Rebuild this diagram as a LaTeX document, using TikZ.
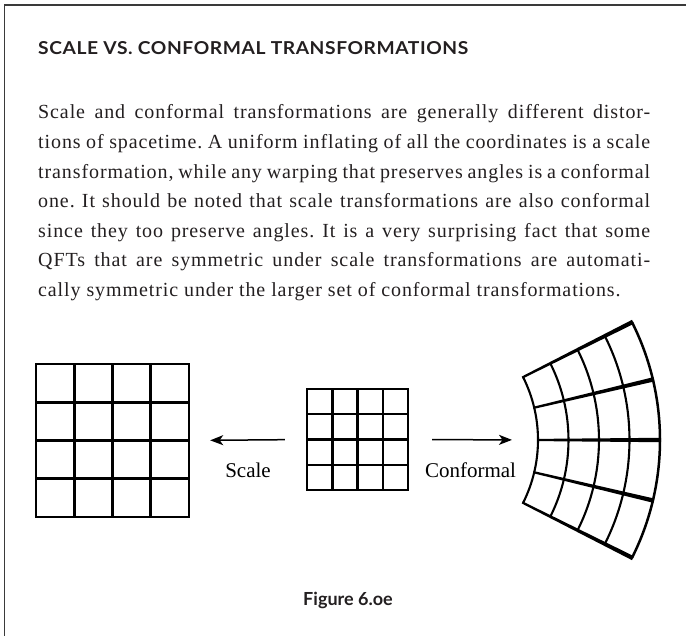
\documentclass[tikz,border=0pt]{standalone}
\usepackage{fontspec}
\setmainfont{Liberation Serif}
\newfontfamily\titlefont{Lato}
\newfontfamily\labelfont{Liberation Serif}
\usetikzlibrary{arrows.meta}
\definecolor{ink}{HTML}{231F20}
\definecolor{framec}{HTML}{3A3A3A}
\begin{document}
\frenchspacing
\begin{tikzpicture}[x=1pt,y=-1pt,
  bodyline/.style={anchor=base west, inner sep=0pt, text=ink, font=\fontsize{20}{20}\selectfont\addfontfeature{LetterSpace=4.5}},
  bigline/.style={line width=2.8pt, black},
  midline/.style={line width=2.5pt, black},
  arcline/.style={line width=2.2pt, black},
  arrowline/.style={line width=1.5pt, black, -{Stealth[length=13pt,width=10pt,inset=3.5pt]}},
  gridbox/.style={draw=none, inner sep=0pt, minimum size=#1},
  lbl/.style={anchor=base, inner sep=0pt, text=black, font=\labelfont\fontsize{21}{21}\selectfont}]
\useasboundingbox (0,0) rectangle (686,636);
\fill[white] (0,0) rectangle (686,636);
\draw[framec, line width=1.4pt] (4.5,636) -- (4.5,5) -- (686,5);
% title
\node[anchor=base west, inner sep=0pt, text=ink] (title) at (38,55)
  {\resizebox{430pt}{13pt}{\titlefont\bfseries\addfontfeature{LetterSpace=3}SCALE VS. CONFORMAL TRANSFORMATIONS}};
% body
\node[bodyline] (l1) at (38,119) {\makebox[612pt][s]{Scale and conformal transformations are generally different distor-}};
\node[bodyline] (l2) at (38,148.6) {\makebox[612pt][s]{tions of spacetime. A uniform inflating of all the coordinates is a scale}};
\node[bodyline] (l3) at (38,178.2) {\makebox[612pt][s]{transformation, while any warping that preserves angles is a conformal}};
\node[bodyline] (l4) at (38,207.8) {\makebox[612pt][s]{one. It should be noted that scale transformations are also conformal}};
\node[bodyline] (l5) at (38,237.4) {\makebox[612pt][s]{since they too preserve angles. It is a very surprising fact that some}};
\node[bodyline] (l6) at (38,267) {\makebox[612pt][s]{QFTs that are symmetric under scale transformations are automati-}};
\node[bodyline] (l7) at (38,296.6) {cally symmetric under the larger set of conformal transformations.};
% big grid
\node[gridbox=153pt] (big) at (112.5,440.5) {};
\foreach \i in {1,2,3} {
  \draw[bigline] (36+\i*38.25,364) -- (36+\i*38.25,517);
  \draw[bigline] (36,364+\i*38.25) -- (189,364+\i*38.25);
}
\draw[bigline] (36,364) rectangle (189,517);
% middle grid
\node[gridbox=101pt] (mid) at (357.5,439.5) {};
\foreach \i in {1,2,3} {
  \draw[midline] (307+\i*25.25,389) -- (307+\i*25.25,490);
  \draw[midline] (307,389+\i*25.25) -- (408,389+\i*25.25);
}
\draw[midline] (307,389) rectangle (408,490);
% conformal grid
\coordinate (conf) at (538,440);
\begin{scope}[shift={(398,440)}]
  \foreach \r/\w in {140pt/2.1pt,170.5pt/2.1pt,201pt/2.1pt,231.5pt/2.1pt,262pt/2.5pt} {
    \draw[arcline, line width=\w] (26.7:\r) arc[start angle=26.7, end angle=-26.7, radius=\r];
  }
  \foreach \a in {-26.7,-13.35,0,13.35,26.7} {
    \fill[black] ([shift={(\a+90:1.1pt)}]\a:139pt) -- ([shift={(\a+90:2.2pt)}]\a:263pt)
      -- ([shift={(\a-90:2.2pt)}]\a:263pt) -- ([shift={(\a-90:1.1pt)}]\a:139pt) -- cycle;
  }
\end{scope}
% arrows
\draw[arrowline, shorten <=22pt, shorten >=21pt] (mid.west) -- (big.east);
\draw[arrowline, shorten <=24pt, shorten >=26pt] (mid.east) -- (conf);
% labels
\node[lbl] (scale) at (248,477) {Scale};
\node[lbl] (conformal) at (470.5,477) {Conformal};
% caption
\node[anchor=base, inner sep=0pt, text=ink] (caption) at (348,605)
  {\titlefont\bfseries\fontsize{18}{18}\selectfont Figure 6.oe};
\end{tikzpicture}
\end{document}
